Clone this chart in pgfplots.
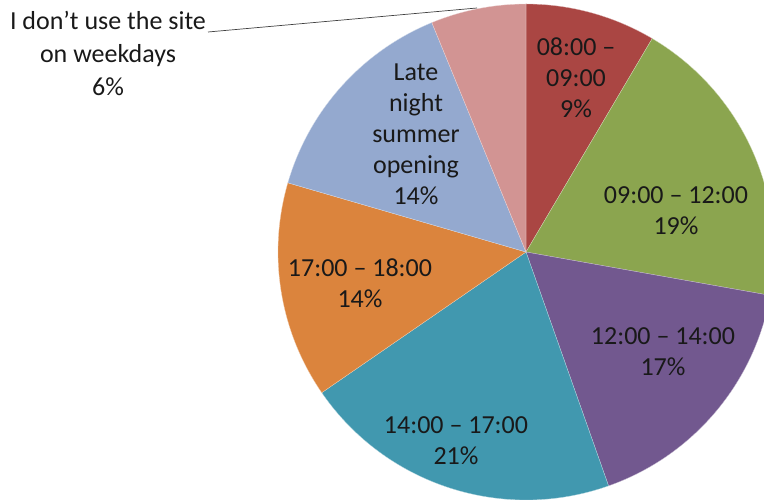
\documentclass[border=0pt]{standalone}
\usepackage{pgfplots}
\pgfplotsset{compat=1.18}
\usepackage{pgfplotstable}
\usepackage{fontspec}
\setmainfont{Carlito}

\definecolor{c0}{HTML}{AA4643}
\definecolor{c1}{HTML}{8BA54F}
\definecolor{c2}{HTML}{72588F}
\definecolor{c3}{HTML}{4198AF}
\definecolor{c4}{HTML}{DB843D}
\definecolor{c5}{HTML}{94A9CF}
\definecolor{c6}{HTML}{D29493}

% shares of the pie (percent), clockwise from 12 o'clock
\pgfplotstableread{
value
8.5
19.3
16.8
20.8
14.1
14.3
6.2
}\piedata

\def\cx{526}\def\cy{248}\def\rad{248}
\gdef\cum{0}
\gdef\piecmds{}
\foreach \i in {0,...,6}{%
  \pgfplotstablegetelem{\i}{value}\of\piedata
  \pgfmathsetmacro\sa{90-3.6*\cum}%
  \pgfmathsetmacro\ea{90-3.6*(\cum+\pgfplotsretval)}%
  \pgfmathsetmacro\nc{\cum+\pgfplotsretval}%
  \xdef\cum{\nc}%
  \xdef\piecmds{\piecmds
    \noexpand\fill[fill=c\i,draw=white!60!c\i,line width=0.3pt]
      (axis cs:\cx,\cy) -- ++(\sa:\rad pt)
      arc[start angle=\sa,end angle=\ea,radius=\rad pt] -- cycle;}%
}

\begin{document}
\begin{tikzpicture}
\useasboundingbox (0,0) rectangle (764pt,500pt);
\begin{axis}[
  at={(0,0)}, anchor=south west,
  hide axis, scale only axis,
  width=764pt, height=500pt,
  xmin=0, xmax=764, ymin=0, ymax=500,
  clip=false,
]
\piecmds
\begin{scope}[every node/.style={align=center,text=black!90,
    font=\fontsize{26}{31}\selectfont, inner sep=0pt}]
\node at (axis cs:576,422) {08:00 –\\09:00\\9\%};
\node at (axis cs:676,289) {09:00 – 12:00\\19\%};
\node at (axis cs:663,148) {12:00 – 14:00\\17\%};
\node at (axis cs:456,59) {14:00 – 17:00\\21\%};
\node at (axis cs:360,217) {17:00 – 18:00\\14\%};
\node at (axis cs:416,366) {Late\\night\\summer\\opening\\14\%};
\node[font=\fontsize{26}{33}\selectfont] at (axis cs:108,447) {I don’t use the site\\on weekdays\\6\%};
\end{scope}
\draw[black!75, line width=0.7pt] (axis cs:208,468) -- (axis cs:477,492);
\end{axis}
\end{tikzpicture}
\end{document}
